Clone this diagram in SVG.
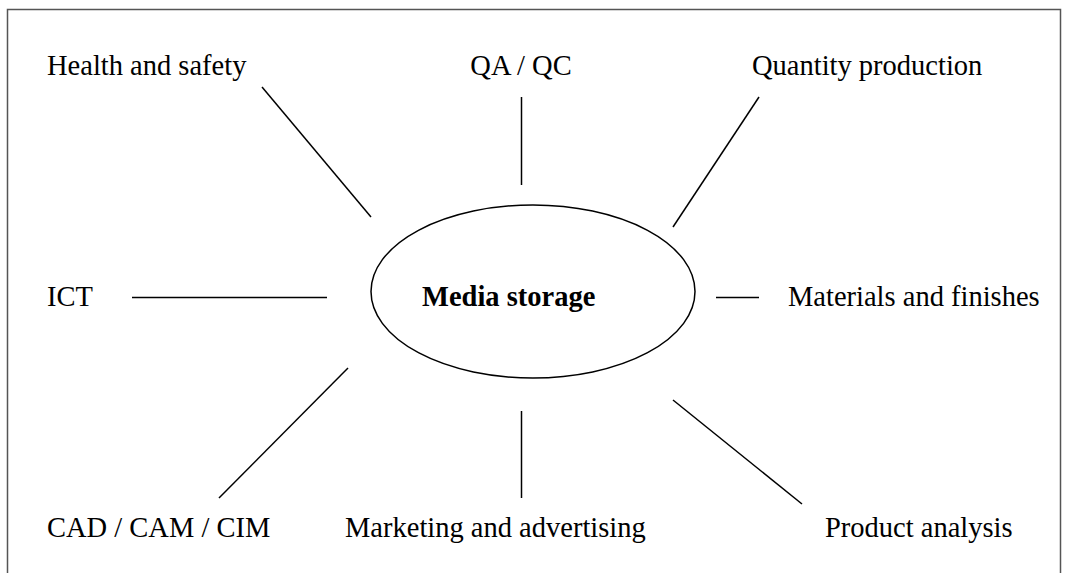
<svg xmlns="http://www.w3.org/2000/svg" width="1069" height="573" viewBox="0 0 1069 573">
<style>
.t{font-family:"Liberation Serif","Times New Roman",serif;font-size:28.5px;fill:#000}
.b{font-weight:bold}
.c{stroke:#000;stroke-width:1.5;fill:none}
</style>
<rect x="0" y="0" width="1069" height="573" fill="#fff"/>
<rect x="7.5" y="9.5" width="1053" height="570" fill="none" stroke="#555" stroke-width="1.5"/>
<g id="connectors">
<line class="c" x1="262" y1="87" x2="371" y2="217"/>
<line class="c" x1="521.5" y1="97" x2="521.5" y2="185"/>
<line class="c" x1="759" y1="97" x2="673" y2="227"/>
<line class="c" x1="132" y1="297.5" x2="327" y2="297.5"/>
<line class="c" x1="716" y1="297.5" x2="759" y2="297.5"/>
<line class="c" x1="348" y1="368" x2="219" y2="498"/>
<line class="c" x1="521.5" y1="411" x2="521.5" y2="498"/>
<line class="c" x1="673" y1="400" x2="802" y2="504"/>
</g>
<g id="center">
<ellipse cx="533" cy="291.5" rx="162" ry="86.5" fill="#fff" stroke="#000" stroke-width="1.5"/>
<text class="t b" x="422" y="306">Media storage</text>
</g>
<g id="health"><text class="t" x="47" y="75">Health and safety</text></g>
<g id="qaqc"><text class="t" x="521" y="75" text-anchor="middle">QA / QC</text></g>
<g id="quantity"><text class="t" x="752" y="75">Quantity production</text></g>
<g id="ict"><text class="t" x="47" y="306">ICT</text></g>
<g id="materials"><text class="t" x="788" y="306">Materials and finishes</text></g>
<g id="cad"><text class="t" x="47" y="537">CAD / CAM / CIM</text></g>
<g id="marketing"><text class="t" x="345" y="537">Marketing and advertising</text></g>
<g id="product"><text class="t" x="825" y="537">Product analysis</text></g>
</svg>
